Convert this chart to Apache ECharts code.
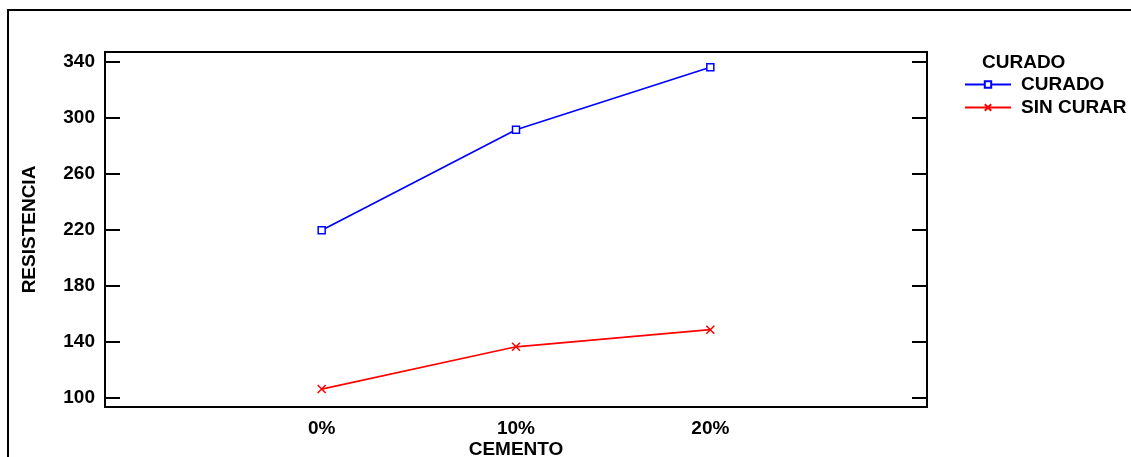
<!DOCTYPE html>
<html>
<head>
<meta charset="utf-8">
<title>RESISTENCIA vs CEMENTO</title>
<script src="https://cdn.jsdelivr.net/npm/echarts@6/dist/echarts.min.js"></script>
<style>
  html, body { margin: 0; padding: 0; background: #fff; }
  #chart { width: 1131px; height: 457px; }
</style>
</head>
<body>
<div id="chart"></div>
<script>
// Cement content levels and measured strength per curing condition
const categories = ['0%', '10%', '20%'];
const curado = [219.6, 291.4, 336.0];
const sinCurar = [106.2, 136.4, 148.6];
const yTicks = [100, 140, 180, 220, 260, 300, 340];
const seriesNames = ['CURADO', 'SIN CURAR'];
const legendTitle = 'CURADO';

const FONT = '"Liberation Sans", Arial, sans-serif';
const FS = 19;
const chart = echarts.init(document.getElementById('chart'), null, { renderer: 'canvas' });

const pts = arr => arr.map((v, i) => [i, v]);
const catIdx = categories.map((_, i) => i);

const yCommon = {
  type: 'value',
  min: 93.4,
  max: 346.9,
  splitLine: { show: false },
  axisLine: { show: true, onZero: false, lineStyle: { color: '#000', width: 2 } },
  axisTick: { show: true, inside: true, length: 15, customValues: yTicks,
              lineStyle: { color: '#000', width: 2 } }
};

chart.setOption({
  animation: false,
  backgroundColor: '#fff',
  grid: {
    left: 105, top: 52, width: 822, height: 355,
    outerBoundsMode: 'none',
    show: true, borderColor: '#000', borderWidth: 2, backgroundColor: 'transparent'
  },
  xAxis: {
    type: 'value',
    min: -1.115,
    max: 3.115,
    name: 'CEMENTO',
    nameLocation: 'middle',
    nameGap: 33,
    nameMoveOverlap: false,
    nameTextStyle: { fontFamily: FONT, fontWeight: 'bold', fontSize: FS, color: '#000' },
    splitLine: { show: false },
    axisLine: { show: true, onZero: false, lineStyle: { color: '#000', width: 2 } },
    axisTick: { show: false },
    axisLabel: {
      customValues: catIdx,
      formatter: v => categories[Math.round(v)],
      margin: 12,
      fontFamily: FONT, fontWeight: 'bold', fontSize: FS, color: '#000'
    }
  },
  yAxis: [
    Object.assign({}, yCommon, {
      position: 'left',
      name: 'RESISTENCIA',
      nameLocation: 'middle',
      nameGap: 66,
      nameTextStyle: { fontFamily: FONT, fontWeight: 'bold', fontSize: FS, color: '#000' },
      axisLabel: {
        customValues: yTicks, margin: 10,
        fontFamily: FONT, fontWeight: 'bold', fontSize: FS, color: '#000'
      }
    }),
    Object.assign({}, yCommon, {
      position: 'right',
      axisLabel: { show: false }
    })
  ],
  legend: {
    data: seriesNames,
    orient: 'vertical',
    left: 959,
    top: 70,
    itemWidth: 46,
    itemHeight: 8,
    itemGap: 4,
    textStyle: { fontFamily: FONT, fontWeight: 'bold', fontSize: FS, lineHeight: 16,
                 color: '#000', padding: [0, 0, 0, 5] }
  },
  graphic: [
    {
      type: 'rect',
      shape: { x: 8, y: 10, width: 1140, height: 480 },
      style: { fill: 'none', stroke: '#000', lineWidth: 2 },
      silent: true
    },
    {
      type: 'text',
      left: 982, top: 53,
      style: { text: legendTitle, fill: '#000', font: 'bold ' + FS + 'px ' + FONT }
    }
  ],
  series: [
    {
      name: seriesNames[0],
      type: 'line',
      data: pts(curado),
      symbol: 'rect',
      symbolSize: 7,
      lineStyle: { color: '#0000ff', width: 1.7 },
      itemStyle: { color: '#fff', borderColor: '#0000ff', borderWidth: 1.5 }
    },
    {
      name: seriesNames[1],
      type: 'line',
      data: pts(sinCurar),
      symbol: 'path://M0,0L10,10M10,0L0,10',
      symbolSize: 8,
      lineStyle: { color: '#ff0000', width: 1.7 },
      itemStyle: { color: '#ff0000', borderColor: '#ff0000', borderWidth: 1.5 }
    }
  ]
});
</script>
</body>
</html>
